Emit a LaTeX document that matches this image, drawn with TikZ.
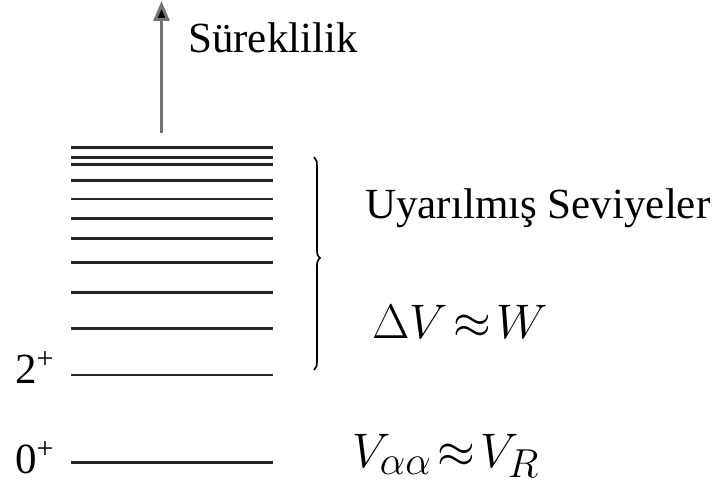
\documentclass[tikz,border=0pt]{standalone}
\usepackage{graphicx}
\usepackage{fontspec}
\setmainfont{Liberation Serif}
\usetikzlibrary{arrows.meta}
\newcommand{\bigmath}[1]{\scalebox{1.95}{\Huge$#1$}}
\newcommand{\spinsup}{\raisebox{0.33em}{\fontsize{30}{30}\selectfont +}}
\begin{document}
\begin{tikzpicture}[x=1pt,y=1pt,
  level/.style={line width=2.5pt, draw=black!85},
  lbl/.style={anchor=base west, inner sep=0pt, font=\fontsize{43}{48}\selectfont},
  mathlbl/.style={anchor=base west, inner sep=0pt},
  brc/.style={line width=1.6pt, draw=black}]
\useasboundingbox (0,0) rectangle (719,-489);
\foreach \y in {147.5,157.3,164.3,180.7,199,218.3,238.3,262.7,292.7,328.3,375,462.7}
  \draw[level] (71,-\y) -- (273,-\y);
\coordinate (cb) at (161.5,-133);
\coordinate (ct) at (161.5,-1);
\draw[line width=3pt, draw=black!55, -{Triangle[width=16pt,length=20pt,fill=black]}] (cb) -- (ct);
\node[lbl] (sur) at (188,-53) {Süreklilik};
\node[lbl] (uya) at (365,-218) {Uyarılmış Seviyeler};
\node[mathlbl] (dv) at (372,-338) {\bigmath{\Delta V\!\approx\! W}};
\node[mathlbl] (vaa) at (352,-467) {\bigmath{V_{\alpha\alpha}\!\approx\! V_R}};
\node[lbl] (l2) at (15,-383) {2\spinsup};
\node[lbl] (l0) at (15,-473) {0\spinsup};
\draw[brc] (314,-157) .. controls (317,-160) .. (317,-172) -- (317,-246)
  .. controls (317,-255) .. (320,-258) .. controls (317,-261) .. (317,-270)
  -- (317,-356) .. controls (317,-367) .. (314,-370);
\end{tikzpicture}
\end{document}
